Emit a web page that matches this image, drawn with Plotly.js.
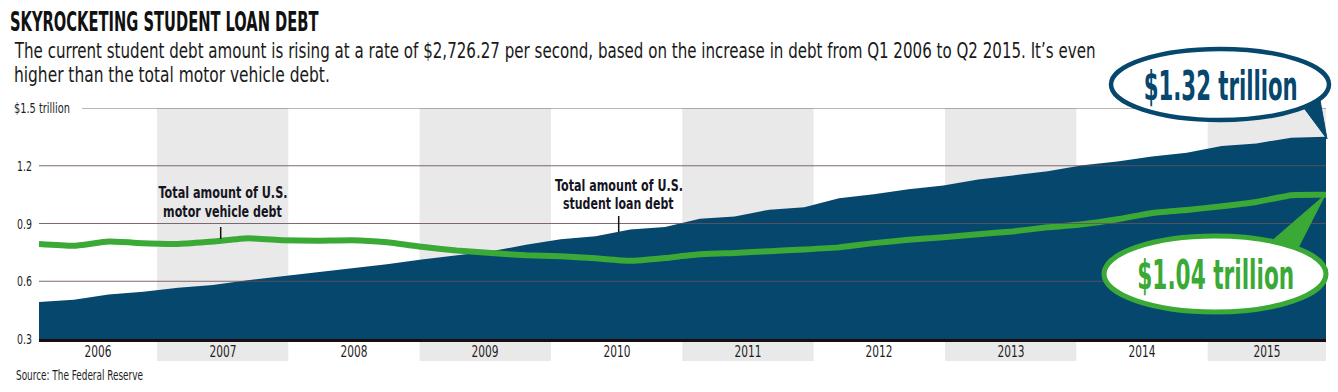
<!DOCTYPE html>
<html><head><meta charset="utf-8">
<script src="https://cdn.plot.ly/plotly-3.0.1.min.js"></script>
<style>html,body{margin:0;padding:0;background:#fff;} #chart{width:1338px;height:392px;}</style>
</head><body><div id="chart"></div>
<script>
// ---------------- DATA ----------------
const quarters = [
 '2006 Q1','2006 Q2','2006 Q3','2006 Q4','2007 Q1','2007 Q2','2007 Q3','2007 Q4',
 '2008 Q1','2008 Q2','2008 Q3','2008 Q4','2009 Q1','2009 Q2','2009 Q3','2009 Q4',
 '2010 Q1','2010 Q2','2010 Q3','2010 Q4','2011 Q1','2011 Q2','2011 Q3','2011 Q4',
 '2012 Q1','2012 Q2','2012 Q3','2012 Q4','2013 Q1','2013 Q2','2013 Q3','2013 Q4',
 '2014 Q1','2014 Q2','2014 Q3','2014 Q4','2015 Q1','2015 Q2'];
// trillions of dollars
const studentLoanDebt = [0.492,0.504,0.531,0.546,0.566,0.580,0.605,0.626,0.647,0.665,
 0.688,0.713,0.733,0.756,0.789,0.818,0.834,0.869,0.882,0.925,0.937,0.972,0.984,1.031,
 1.052,1.078,1.098,1.128,1.150,1.172,1.203,1.222,1.248,1.267,1.303,1.316,1.346,1.351];
const motorVehicleDebt = [0.793,0.784,0.806,0.798,0.794,0.806,0.823,0.813,0.810,0.813,
 0.802,0.779,0.760,0.747,0.735,0.730,0.719,0.706,0.721,0.740,0.747,0.756,0.765,0.776,
 0.798,0.815,0.828,0.844,0.859,0.880,0.896,0.922,0.955,0.970,0.990,1.012,1.047,1.049];
const years = ['2006','2007','2008','2009','2010','2011','2012','2013','2014','2015'];
const yTickVals = [0.3, 0.6, 0.9, 1.2, 1.5];
const yTickText = ['0.3', '0.6', '0.9', '1.2', '$1.5 trillion'];
const titleText = 'SKYROCKETING STUDENT LOAN DEBT';
const subtitleLines = [
 'The current student debt amount is rising at a rate of $2,726.27 per second, based on the increase in debt from Q1 2006 to Q2 2015. It\u2019s even',
 'higher than the total motor vehicle debt.'];
const labelVehicle = ['Total amount of U.S.', 'motor vehicle debt'];
const labelStudent = ['Total amount of U.S.', 'student loan debt'];
const calloutStudent = '$1.32 trillion';
const calloutVehicle = '$1.04 trillion';
const sourceText = 'Source: The Federal Reserve';

// ---------------- LAYOUT HELPERS ----------------
const W = 1338, H = 392, L = 39, R = 1326, T = 108, B = 339;
const px = x => (x - L) / (R - L);
const py = y => (B - y) / (B - T);
const NAVY = '#06476d', GREEN = '#3aa935', BAND = '#e9e9e9';
const NARROW = '"Liberation Sans Narrow", "Arial Narrow", "DejaVu Sans Condensed", "Liberation Sans", sans-serif';
const lastIdx = quarters.length - 1;
// year band geometry in quarter-index units (as drawn in the original)
const firstEdge = -0.386, yearWidth = 3.776;

const shapes = [];
const annotations = [];
// target rendered widths of condensed display text (px), keyed by annotation index
const fits = {};
function addText(o, fitWidth) {
  annotations.push(Object.assign({showarrow: false}, o));
  if (fitWidth) fits[annotations.length - 1] = fitWidth;
}

years.forEach((yr, k) => {
  const a = Math.max(firstEdge + k * yearWidth, 0);
  const b = Math.min(firstEdge + (k + 1) * yearWidth, lastIdx);
  if (k % 2 === 1) {
    shapes.push({type: 'rect', layer: 'below', xref: 'x', yref: 'paper', x0: a, x1: b,
      y0: py(361), y1: 1, fillcolor: BAND, line: {width: 0}});
  }
  addText({xref: 'x', yref: 'paper', x: (a + b) / 2, y: py(351), text: yr,
    xanchor: 'center', yanchor: 'middle',
    font: {family: NARROW, size: 16.5, color: '#1e1e1e'}}, 27);
});

// gridlines
yTickVals.forEach(v => {
  if (v === yTickVals[0]) return;
  shapes.push({type: 'line', layer: 'above', xref: 'paper', yref: 'y',
    x0: v === 1.5 ? px(82) : 0, x1: 1, y0: v, y1: v,
    line: {color: 'rgba(105,80,88,0.85)', width: 1}});
});
yTickVals.forEach((v, i) => {
  addText({xref: 'paper', yref: 'y', x: v === 1.5 ? px(12) : px(15), y: v,
    text: yTickText[i], xanchor: 'left', yanchor: 'middle', align: 'left',
    font: {family: NARROW, size: 14.5, color: '#1e1e1e'}}, v === 1.5 ? 56 : 15);
});

// label pointer ticks
shapes.push({type: 'line', layer: 'above', xref: 'paper', yref: 'paper',
  x0: px(220.7), x1: px(220.7), y0: py(227), y1: py(239), line: {color: '#111', width: 1.5}});
shapes.push({type: 'line', layer: 'above', xref: 'paper', yref: 'paper',
  x0: px(618.7), x1: px(618.7), y0: py(216), y1: py(232), line: {color: '#111', width: 1.5}});

// callout tails and bubbles
const tri = (p) => 'M ' + p.map(q => px(q[0]) + ',' + py(q[1])).join(' L ') + ' Z';
shapes.push({type: 'path', layer: 'above', xref: 'paper', yref: 'paper',
  path: tri([[1304, 108], [1320, 100], [1327, 139]]), fillcolor: NAVY, line: {color: NAVY, width: 1}});
shapes.push({type: 'circle', layer: 'above', xref: 'paper', yref: 'paper',
  x0: px(1111), x1: px(1329), y0: py(120), y1: py(49), fillcolor: '#fff', line: {color: NAVY, width: 4.5}});
shapes.push({type: 'path', layer: 'above', xref: 'paper', yref: 'paper',
  path: tri([[1266, 246], [1297, 250], [1325, 195]]), fillcolor: GREEN, line: {color: GREEN, width: 1}});
shapes.push({type: 'circle', layer: 'above', xref: 'paper', yref: 'paper',
  x0: px(1104), x1: px(1326), y0: py(312), y1: py(236), fillcolor: '#fff', line: {color: GREEN, width: 5}});

// texts
addText({xref: 'paper', yref: 'paper', x: px(8), y: py(22), text: titleText,
  xanchor: 'left', yanchor: 'middle', align: 'left',
  font: {family: NARROW, size: 27, color: '#111', weight: 'bold'}}, 309);
addText({xref: 'paper', yref: 'paper', x: px(12), y: py(51), text: subtitleLines[0],
  xanchor: 'left', yanchor: 'middle', align: 'left',
  font: {family: NARROW, size: 20.5, color: '#1a1a1a'}}, 1082);
addText({xref: 'paper', yref: 'paper', x: px(12), y: py(75), text: subtitleLines[1],
  xanchor: 'left', yanchor: 'middle', align: 'left',
  font: {family: NARROW, size: 20.5, color: '#1a1a1a'}}, 316);
addText({xref: 'paper', yref: 'paper', x: px(222.5), y: py(193), text: labelVehicle[0],
  xanchor: 'center', yanchor: 'middle', font: {family: NARROW, size: 15.5, color: '#15151f', weight: 'bold'}}, 129);
addText({xref: 'paper', yref: 'paper', x: px(222.5), y: py(211.5), text: labelVehicle[1],
  xanchor: 'center', yanchor: 'middle', font: {family: NARROW, size: 15.5, color: '#15151f', weight: 'bold'}}, 119);
addText({xref: 'paper', yref: 'paper', x: px(619), y: py(186), text: labelStudent[0],
  xanchor: 'center', yanchor: 'middle', font: {family: NARROW, size: 15.5, color: '#15151f', weight: 'bold'}}, 128);
addText({xref: 'paper', yref: 'paper', x: px(618.5), y: py(204), text: labelStudent[1],
  xanchor: 'center', yanchor: 'middle', font: {family: NARROW, size: 15.5, color: '#15151f', weight: 'bold'}}, 111);
addText({xref: 'paper', yref: 'paper', x: px(1220), y: py(86), text: calloutStudent,
  xanchor: 'center', yanchor: 'middle', font: {family: NARROW, size: 41, color: NAVY, weight: 'bold'}}, 154);
addText({xref: 'paper', yref: 'paper', x: px(1215.5), y: py(274.5), text: calloutVehicle,
  xanchor: 'center', yanchor: 'middle', font: {family: NARROW, size: 41, color: GREEN, weight: 'bold'}}, 157);
addText({xref: 'paper', yref: 'paper', x: px(14), y: py(374.5), text: sourceText,
  xanchor: 'left', yanchor: 'middle', align: 'left',
  font: {family: NARROW, size: 13.5, color: '#1e1e1e'}}, 127);

const traces = [
  {type: 'scatter', mode: 'lines', x: quarters, y: studentLoanDebt, fill: 'tozeroy',
   fillcolor: NAVY, line: {width: 0, color: NAVY}, hoverinfo: 'skip', name: 'Student loan debt'},
  {type: 'scatter', mode: 'lines', x: quarters, y: motorVehicleDebt,
   line: {width: 6, color: GREEN, shape: 'spline', smoothing: 0.4}, hoverinfo: 'skip', name: 'Motor vehicle debt'}
];

const layout = {
  width: W, height: H, autosize: false, showlegend: false,
  margin: {l: L, r: W - R, t: T, b: H - B, pad: 0},
  paper_bgcolor: '#fff', plot_bgcolor: 'rgba(0,0,0,0)',
  xaxis: {type: 'category', range: [0, lastIdx], showgrid: false, zeroline: false,
    showticklabels: false, ticks: '', showline: true, linecolor: '#1b0d0d', linewidth: 3, fixedrange: true},
  yaxis: {range: [0.3, 1.5], showgrid: false, zeroline: false, showticklabels: false,
    ticks: '', showline: false, fixedrange: true},
  shapes: shapes, annotations: annotations
};

Plotly.newPlot('chart', traces, layout, {staticPlot: true, displayModeBar: false}).then(gd => {
  // squeeze display texts horizontally to the condensed widths of the original typeface
  gd.querySelectorAll('.annotation').forEach(g => {
    const idx = +g.getAttribute('data-index');
    const w = fits[idx];
    const t = g.querySelector('.annotation-text');
    if (!w || !t) return;
    const bb = t.getBBox();
    if (!bb.width) return;
    const anchor = t.getAttribute('text-anchor');
    const cx = anchor === 'start' ? bb.x : anchor === 'end' ? bb.x + bb.width : bb.x + bb.width / 2;
    const sx = w / bb.width;
    const prev = t.getAttribute('transform') || '';
    t.setAttribute('transform', prev + ` translate(${cx},0) scale(${sx},1) translate(${-cx},0)`);
  });
});
</script>
</body></html>
